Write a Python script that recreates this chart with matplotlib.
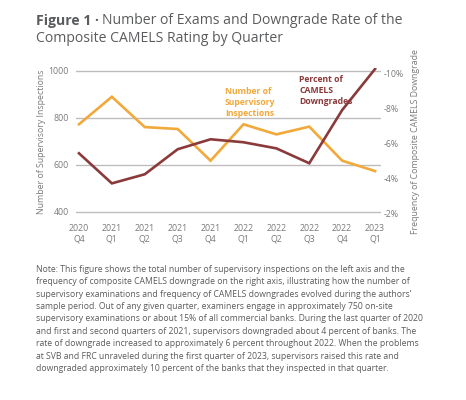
import matplotlib
matplotlib.use("Agg")
import matplotlib.pyplot as plt
from matplotlib.ticker import FixedLocator, FuncFormatter

quarters = ["2020\nQ4", "2021\nQ1", "2021\nQ2", "2021\nQ3", "2021\nQ4",
            "2022\nQ1", "2022\nQ2", "2022\nQ3", "2022\nQ4", "2023\nQ1"]
inspections = [772, 889, 760, 752, 617, 772, 729, 762, 617, 573]
downgrade_pct = [5.43, 3.71, 4.23, 5.66, 6.23, 6.06, 5.71, 4.86, 7.9, 10.25]
left_ticks = [400, 600, 800, 1000]
right_ticks = [2, 4, 6, 8, 10]

ORANGE = "#F2A93B"
RED = "#8A3A3A"
GRAY = "#5a5b5d"
TICKGRAY = "#7a7a7a"
FONT = "Open Sans"

W, H = 466, 400
fig = plt.figure(figsize=(W / 100, H / 100), dpi=100)
plt.rcParams["font.family"] = [FONT, "DejaVu Sans"]

def fx(px):
    return px / W

def fy(py):
    return 1 - py / H

# pixel geometry: 1000 gridline at 70.7px, 400 gridline at 211.7px
ax_l, ax_r, ax_t, ax_b = 76, 381, 68.5, 215.0
px_per_unit_l = (211.7 - 70.7) / 600.0
px_per_pct = 17.5  # right axis: 10% at 73.3px, 2% at 213.3px

ax = fig.add_axes([fx(ax_l), fy(ax_b), (ax_r - ax_l) / W, (ax_b - ax_t) / H])
x = list(range(len(quarters)))
ax.set_xlim(-0.09, 9.18)
ax.set_ylim(400 - (ax_b - 211.7) / px_per_unit_l, 1000 + (70.7 - ax_t) / px_per_unit_l)
ax.yaxis.set_major_locator(FixedLocator(left_ticks))
ax.grid(axis="y", color="#bdbdbd", linewidth=1.0)
ax.set_axisbelow(True)
for s in ax.spines.values():
    s.set_visible(False)
ax.set_xticks(x)
ax.set_xticklabels(quarters, fontsize=6.3, color=TICKGRAY, linespacing=1.25)
ax.tick_params(axis="x", length=0, pad=6.5)
ax.tick_params(axis="y", length=0, pad=5, labelsize=6.3, labelcolor=TICKGRAY)
ax.set_ylabel("Number of Supervisory Inspections", fontsize=6.3, color=TICKGRAY, labelpad=2)

ax2 = ax.twinx()
ax2.set_ylim(2 - (ax_b - 213.3) / px_per_pct, 10 + (73.3 - ax_t) / px_per_pct)
ax2.yaxis.set_major_locator(FixedLocator(right_ticks))
ax2.yaxis.set_major_formatter(FuncFormatter(lambda v, p: f"-{int(v)}%"))
for s in ax2.spines.values():
    s.set_visible(False)
ax2.tick_params(axis="y", length=0, pad=2, labelsize=6.3, labelcolor=TICKGRAY)
ax2.set_ylabel("Frequency of Composite CAMELS Downgrade", fontsize=6.3, color=TICKGRAY, labelpad=5)

ax.plot(x, inspections, color=ORANGE, linewidth=1.9, solid_joinstyle="miter", zorder=3)
ax2.plot(x, downgrade_pct, color=RED, linewidth=1.9, solid_joinstyle="miter", zorder=3)

fig.text(fx(225), fy(87), "Number of\nSupervisory\nInspections", fontsize=6.2,
         fontweight="bold", color=ORANGE, va="top", ha="left", linespacing=1.3)
fig.text(fx(299), fy(75), "Percent of\nCAMELS\nDowngrades", fontsize=6.2,
         fontweight="bold", color=RED, va="top", ha="left", linespacing=1.3)

# Title
TS = 10.1
t1 = fig.text(fx(36), fy(21), "Figure 1 \u00b7", fontsize=TS, fontweight="bold",
              color=GRAY, va="center", ha="left")
fig.canvas.draw()
bb = t1.get_window_extent()
fig.text(bb.x1 / W + fx(3.5), fy(21), "Number of Exams and Downgrade Rate of the",
         fontsize=TS, color=GRAY, va="center", ha="left")
fig.text(fx(36), fy(39), "Composite CAMELS Rating by Quarter",
         fontsize=TS, color=GRAY, va="center", ha="left")

note = ("Note: This figure shows the total number of supervisory inspections on the left axis and the\n"
        "frequency of composite CAMELS downgrade on the right axis, illustrating how the number of\n"
        "supervisory examinations and frequency of CAMELS downgrades evolved during the authors\u2019\n"
        "sample period. Out of any given quarter, examiners engage in approximately 750 on-site\n"
        "supervisory examinations or about 15% of all commercial banks. During the last quarter of 2020\n"
        "and first and second quarters of 2021, supervisors downgraded about 4 percent of banks. The\n"
        "rate of downgrade increased to approximately 6 percent throughout 2022. When the problems\n"
        "at SVB and FRC unraveled during the first quarter of 2023, supervisors raised this rate and\n"
        "downgraded approximately 10 percent of the banks that they inspected in that quarter.")
fig.text(fx(36), fy(265), note, fontsize=6.2, color=GRAY, va="top", ha="left", linespacing=1.48)

fig.savefig("out.png", dpi=100)
